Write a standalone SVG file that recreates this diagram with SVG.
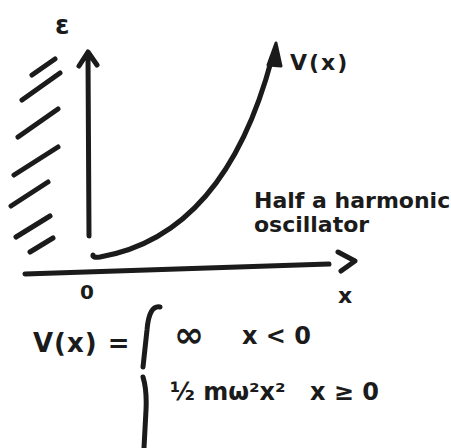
<svg xmlns="http://www.w3.org/2000/svg" width="451" height="448" viewBox="0 0 451 448">
<style>
.s{fill:none;stroke:#1b1b1b;stroke-width:5;stroke-linecap:round;stroke-linejoin:round}
.t{font-family:"DejaVu Sans",sans-serif;font-weight:bold;fill:#1b1b1b}
</style>
<rect width="451" height="448" fill="#fff"/>
<g id="hatch">
<path class="s" d="M32 75L55 59M22 100L60 73M18 137L58 109M14 175L58 147M11 206L48 182M16 237L50 216M30 252L53 238"/>
</g>
<g id="connectors">
<path class="s" d="M89 236L88 56M79 66L88 52L97 65"/>
<path class="s" d="M25 274L329 264M338 252L355 261L341 271"/>
<path class="s" d="M93 255Q92 258 100 257Q225 235 272 58"/>
<path d="M268 65L276 43L281 66Z" fill="#1b1b1b" stroke="#1b1b1b" stroke-width="3" stroke-linejoin="round"/>
</g>
<g id="labels">
<text class="t" x="55" y="34" font-size="26">ε</text>
<text class="t" x="290" y="70" font-size="22" letter-spacing="2">V(x)</text>
<text class="t" x="254" y="208" font-size="22">Half a harmonic</text>
<text class="t" x="254" y="232" font-size="22">oscillator</text>
<text class="t" x="80" y="299" font-size="20">0</text>
<text class="t" x="338" y="303" font-size="22">x</text>
</g>
<g id="formula">
<text class="t" x="33" y="352" font-size="26" letter-spacing="1">V(x) =</text>
<path class="s" d="M160 307Q149 305 147 330L143 367M143 377Q147 390 146 410L144 448"/>
<text class="t" x="174" y="347" font-size="36">∞</text>
<text class="t" x="242" y="344" font-size="24">x &lt; 0</text>
<text class="t" x="170" y="400" font-size="24">½ mω²x²</text>
<text class="t" x="310" y="400" font-size="24">x ≥ 0</text>
</g>
</svg>
